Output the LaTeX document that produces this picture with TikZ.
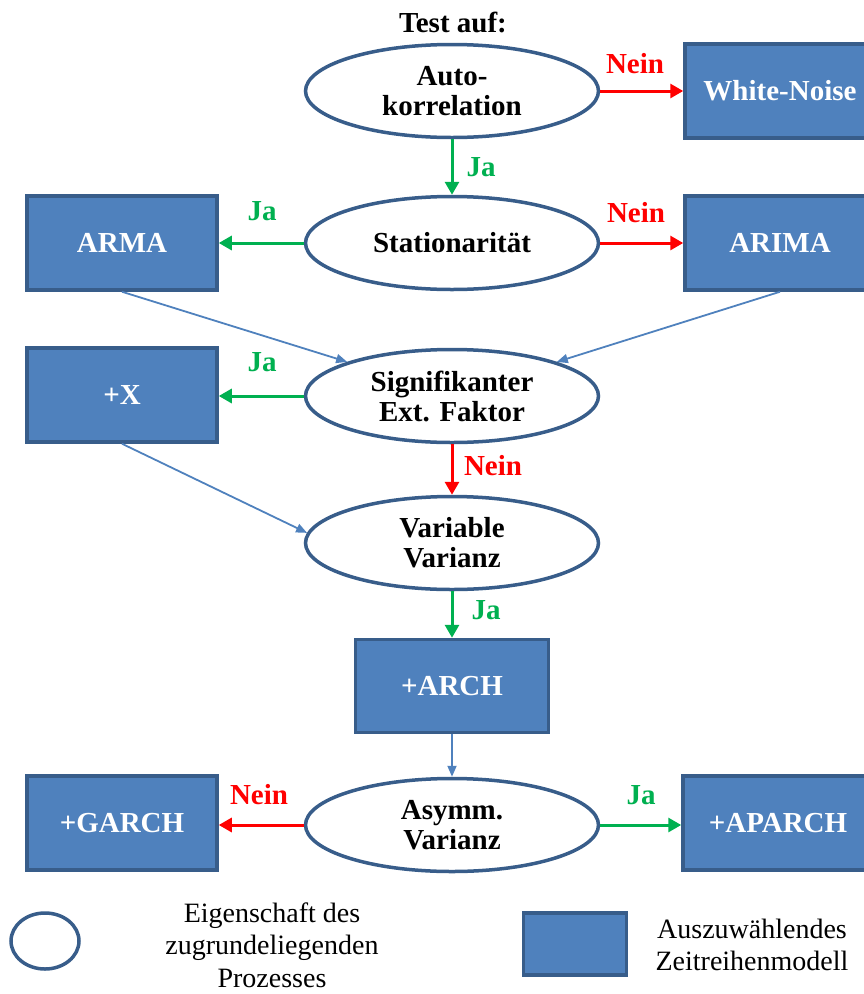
\documentclass[tikz,border=0pt]{standalone}
\usepackage{fontspec}
\setmainfont{Liberation Serif}
\usetikzlibrary{shapes.geometric,arrows.meta}
\definecolor{boxfill}{HTML}{4F81BD}
\definecolor{boxline}{HTML}{385D8A}
\definecolor{jagreen}{HTML}{00B050}
\definecolor{neinred}{HTML}{FF0000}
\begin{document}
\begin{tikzpicture}[x=1pt,y=-1pt,
  prop/.style={ellipse,draw=boxline,line width=3.5pt,fill=white,minimum width=293pt,minimum height=93pt,inner sep=0pt,align=center,font=\fontsize{29}{30}\selectfont\bfseries},
  model/.style={rectangle,draw=boxline,line width=3.5pt,fill=boxfill,minimum width=190pt,minimum height=94pt,inner sep=0pt,align=center,text=white,font=\fontsize{29}{30}\selectfont\bfseries},
  yesarrow/.style={draw=jagreen,line width=3pt,-{Triangle[length=13pt,width=14pt]}},
  noarrow/.style={draw=neinred,line width=3pt,-{Triangle[length=13pt,width=14pt]}},
  flow/.style={draw=boxfill,line width=1.8pt,-{Triangle[length=11pt,width=9pt]}},
  yeslbl/.style={text=jagreen,font=\fontsize{29}{30}\selectfont\bfseries,inner sep=0pt},
  nolbl/.style={text=neinred,font=\fontsize{29}{30}\selectfont\bfseries,inner sep=0pt},
  legtext/.style={align=center,font=\fontsize{28}{32.5}\selectfont,inner sep=0pt}]
\useasboundingbox (0,0) rectangle (864,994);

\node[font=\fontsize{29}{30}\selectfont\bfseries,inner sep=0pt] (title) at (453,22) {Test auf:};

\node[prop] (auto) at (452,91) {Auto-\\korrelation};
\node[model] (wn) at (780,91) {White-Noise};
\node[prop] (stat) at (452,243) {Stationarität};
\node[model] (arma) at (122,243) {ARMA};
\node[model] (arima) at (780,243) {ARIMA};
\node[prop] (sig) at (452,396) {Signifikanter\\Ext. Faktor};
\node[model] (x) at (122,395) {+X};
\node[prop] (var) at (452,543) {Variable\\Varianz};
\node[model,minimum width=193pt,minimum height=93pt] (arch) at (452,686) {+ARCH};
\node[prop] (asym) at (452,825) {Asymm.\\Varianz};
\node[model] (garch) at (122,823) {+GARCH};
\node[model] (aparch) at (778,823) {+APARCH};

\draw[noarrow] (auto.east) -- (wn.west |- auto.east);
\node[nolbl] (n1) at (635,64) {Nein};
\draw[yesarrow] (auto.south) -- (stat.north);
\node[yeslbl] (j1) at (481,167) {Ja};
\draw[yesarrow] (stat.west) -- (arma.east |- stat.west);
\node[yeslbl] (j2) at (262,211) {Ja};
\draw[noarrow] (stat.east) -- (arima.west |- stat.east);
\node[nolbl] (n2) at (636,213) {Nein};
\draw[flow] (arma.south) -- (sig.north west);
\draw[flow] (arima.south) -- (sig.north east);
\draw[yesarrow] (sig.west) -- (x.east |- sig.west);
\node[yeslbl] (j3) at (262,362) {Ja};
\draw[noarrow] (sig.south) -- (var.north);
\node[nolbl] (n3) at (493,466) {Nein};
\draw[flow] (x.south) -- (var.176);
\draw[yesarrow] (var.south) -- (arch.north);
\node[yeslbl] (j4) at (486,610) {Ja};
\draw[flow] (arch.south) -- (asym.north);
\draw[noarrow] (asym.west) -- (garch.east |- asym.west);
\node[nolbl] (n4) at (259,795) {Nein};
\draw[yesarrow] (asym.east) -- (aparch.west |- asym.east);
\node[yeslbl] (j5) at (641,795) {Ja};

% legend
\node[ellipse,draw=boxline,line width=3.5pt,minimum width=68pt,minimum height=56pt,inner sep=0pt] (legprop) at (45,941) {};
\node[legtext] (legproptxt) at (272,945) {Eigenschaft des\\zugrundeliegenden\\Prozesses};
\node[rectangle,draw=boxline,line width=3.5pt,fill=boxfill,minimum width=103pt,minimum height=62pt,inner sep=0pt] (legmodel) at (575,944) {};
\node[legtext] (legmodeltxt) at (752,945) {Auszuwählendes\\Zeitreihenmodell};
\end{tikzpicture}
\end{document}
